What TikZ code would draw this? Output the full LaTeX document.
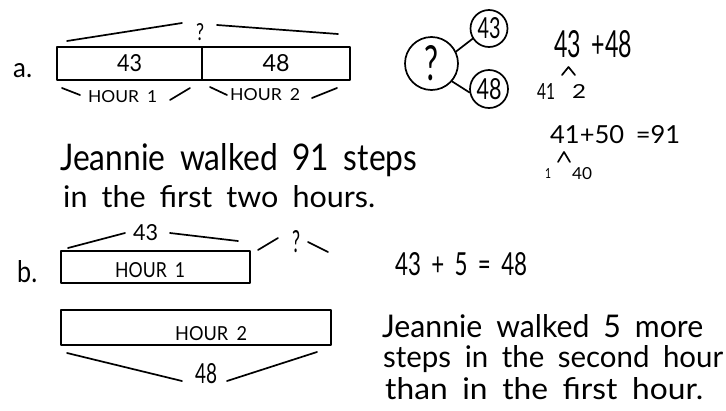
\documentclass[tikz,border=0pt]{standalone}
\usepackage{graphicx}
\usepackage{fontspec}
\setmainfont{Lato}[WordSpace=1.8]
\newcommand{\fitt}[3]{\resizebox{#1pt}{#2pt}{#3}}
\tikzset{
  ink/.style={line width=1.7pt, line cap=round, line join=round},
  bar/.style={draw, ink, inner sep=0pt, rectangle},
  ring/.style={draw, ink, circle, inner sep=0pt},
  txt/.style={inner sep=0pt, anchor=base west},
  ctr/.style={inner sep=0pt, anchor=center}
}
\begin{document}
\begin{tikzpicture}[x=1pt,y=-1pt]
\useasboundingbox (0,0) rectangle (726,410);
\fill[white] (0,0) rectangle (726,410);

% ---------- part a ----------
\node[txt] (la) at (13,77) {\fitt{19}{14}{a.}};
\node[bar, minimum width=145pt, minimum height=33pt] (a1) at (129.5,63.5) {\fitt{25}{17}{43}};
\node[bar, minimum width=148pt, minimum height=33pt] (a2) at (276,63.5) {\fitt{27}{17}{48}};
\node[txt] (qa) at (196,40) {\fitt{8}{17}{?}};
\coordinate (qa1) at (67,41); \coordinate (qa2) at (182,23);
\coordinate (qa3) at (217,25); \coordinate (qa4) at (338,34);
\draw[ink] (qa1) -- (qa2);
\draw[ink] (qa3) -- (qa4);
\node[txt] (h1a) at (88,102) {\fitt{69}{12}{HOUR 1}};
\node[txt] (h2a) at (230,100) {\fitt{70}{12}{HOUR 2}};
\coordinate (b1) at (62,88); \coordinate (b2) at (80,95);
\coordinate (b3) at (170,100); \coordinate (b4) at (190,88);
\coordinate (b5) at (210,87); \coordinate (b6) at (227,95);
\coordinate (b7) at (312,98); \coordinate (b8) at (337,88);
\draw[ink] (b1) -- (b2);
\draw[ink] (b3) -- (b4);
\draw[ink] (b5) -- (b6);
\draw[ink] (b7) -- (b8);

% number bond
\node[ring, minimum size=53pt] (q) at (431.5,63.5) {\fitt{14}{35}{?}};
\node[ring, minimum size=37pt] (c43) at (489,28.5) {\fitt{23}{21}{43}};
\node[ring, minimum size=38pt] (c48) at (489,89) {\fitt{25}{21}{48}};
\draw[ink] (q.26) -- (c43.212);
\draw[ink] (q.-41) -- (c48.190);

% computations
\node[txt] (e1) at (554,57) {\fitt{78}{27}{43 +48}};
\coordinate (k1) at (562,75); \coordinate (k2) at (568.5,67); \coordinate (k3) at (575,75);
\draw[ink] (k1) -- (k2) -- (k3);
\node[txt] (e2) at (537,99) {\fitt{18}{16}{41}};
\node[txt] (e3) at (572,98) {\fitt{14}{14}{2}};
\node[txt] (e4) at (550,143) {\fitt{130}{18}{41+50 =91}};
\coordinate (m1) at (558,162); \coordinate (m2) at (564,152); \coordinate (m3) at (570,162);
\draw[ink] (m1) -- (m2) -- (m3);
\node[txt] (e5) at (545,178) {\fitt{6}{10}{1}};
\node[txt] (e6) at (572,179) {\fitt{20}{12}{40}};

\node[txt] (s1) at (60,170) {\fitt{357}{27}{Jeannie walked 91 steps}};
\node[txt] (s2) at (63,207) {\fitt{312}{22}{in the first two hours.}};

% ---------- part b ----------
\node[txt] (lb) at (17,282) {\fitt{20}{22}{b.}};
\node[bar, minimum width=189pt, minimum height=32pt] (hb1) at (155.5,267) {};
\node[txt] (th1) at (115,277) {\fitt{70}{15}{HOUR 1}};
\node[txt] (n43) at (133,240) {\fitt{25}{16}{43}};
\coordinate (u1) at (68,248); \coordinate (u2) at (125,233);
\coordinate (u3) at (170,233); \coordinate (u4) at (238,241);
\draw[ink] (u1) -- (u2);
\draw[ink] (u3) -- (u4);
\node[txt] (qb) at (292,252) {\fitt{8}{22}{?}};
\coordinate (v1) at (258,250); \coordinate (v2) at (278,238);
\coordinate (v3) at (308,242); \coordinate (v4) at (328,252);
\draw[ink] (v1) -- (v2);
\draw[ink] (v3) -- (v4);
\node[bar, minimum width=270pt, minimum height=35pt] (hb2) at (196,327.5) {};
\node[txt] (th2) at (175,340) {\fitt{72}{14}{HOUR 2}};
\node[txt] (n48) at (195,383) {\fitt{22}{20}{48}};
\coordinate (w1) at (67,353); \coordinate (w2) at (182,381);
\coordinate (w3) at (227,381); \coordinate (w4) at (317,352);
\draw[ink] (w1) -- (w2);
\draw[ink] (w3) -- (w4);

\node[txt] (f1) at (395,275) {\fitt{132}{23}{43 + 5 = 48}};
\node[txt] (r1) at (382,337) {\fitt{321}{23}{Jeannie walked 5 more}};
\node[txt] (r2) at (383,367) {\fitt{340}{22}{steps in the second hour}};
\node[txt] (r3) at (385,399) {\fitt{318}{22}{than in the first hour.}};
\end{tikzpicture}
\end{document}
